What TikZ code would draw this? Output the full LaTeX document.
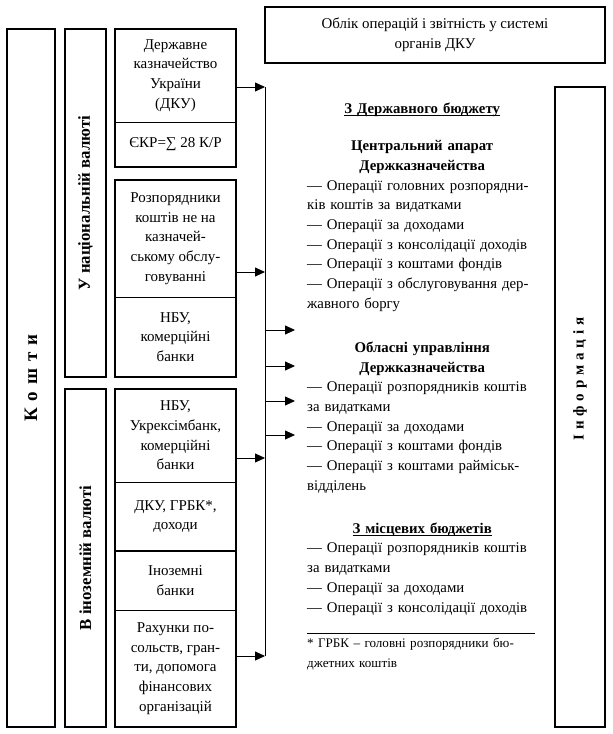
\documentclass[tikz,border=0pt]{standalone}
\usepackage{fontspec}
\setmainfont{Liberation Serif}
\usetikzlibrary{arrows.meta}
\tikzset{
  frame/.style={draw, line width=2.2pt, inner sep=0pt, outer sep=0pt},
  cell/.style={draw, line width=0.8pt, minimum width=121pt, inner sep=0pt,
    outer sep=0pt, anchor=north west, align=center,
    font=\fontsize{15}{19.7}\selectfont},
  vlabel/.style={rotate=90, font=\bfseries\fontsize{16.8}{18}\selectfont},
}
\newcommand{\jl}[1]{\makebox[230pt][s]{#1}}
\newcommand{\hd}[1]{\makebox[230pt]{\bfseries #1}}
\newcommand{\ulbd}[1]{\setbox0=\hbox{#1}\rlap{\rule[-2.2pt]{\wd0}{0.8pt}}\box0}
\newcommand{\lsp}{\hspace{7pt}}
\newcommand{\isp}{\hspace{4.8pt}}
\begin{document}
\begin{tikzpicture}[x=1pt,y=-1pt,>={Triangle[length=10pt,width=9pt]}]
  \useasboundingbox (0,0) rectangle (613,734);
  % left columns
  \node[frame, vlabel, minimum width=698pt, minimum height=48pt,
    font=\bfseries\fontsize{19}{22}\selectfont] (koshty) at (31,378)
    {К\lsp о\lsp ш\lsp т\lsp и};
  \node[frame, vlabel, minimum width=348pt, minimum height=41pt] (natsval)
    at (85.5,203) {У національній валюті};
  \node[frame, vlabel, minimum width=338pt, minimum height=41pt] (inval)
    at (85.5,558) {В іноземній валюті};
  % sources
  \node[cell, minimum height=93pt] (dku) at (115,29)
    {Державне\\казначейство\\України\\(ДКУ)};
  \node[cell, minimum height=45pt] (ekr) at (115,122) {ЄКР=∑ 28 К/Р};
  \node[cell, minimum height=117pt] (rozp) at (115,180)
    {Розпорядники\\коштів не на\\казначей-\\ському обслу-\\говуванні};
  \node[cell, minimum height=80pt] (nbu) at (115,297)
    {НБУ,\\комерційні\\банки};
  \node[cell, minimum height=93pt] (exim) at (115,389)
    {НБУ,\\Укрексімбанк,\\комерційні\\банки};
  \node[cell, minimum height=69pt] (grbk) at (115,482)
    {ДКУ, ГРБК*,\\доходи};
  \node[cell, minimum height=59pt] (inbank) at (115,551)
    {Іноземні\\банки};
  \node[cell, minimum height=117pt] (rakh) at (115,610)
    {Рахунки по-\\сольств, гран-\\ти, допомога\\фінансових\\організацій};
  \draw[line width=2.2pt] (dku.north west) rectangle (ekr.south east);
  \draw[line width=2.2pt] (rozp.north west) rectangle (nbu.south east);
  \draw[line width=2.2pt] (exim.north west) rectangle (grbk.south east);
  \draw[line width=2.2pt] (inbank.north west) rectangle (rakh.south east);
  % right boxes
  \node[frame, anchor=north west, minimum width=340pt, minimum height=56pt,
    align=center, font=\fontsize{14.9}{19.7}\selectfont] (oblik) at (265,7)
    {Облік операцій і звітність у системі\\органів ДКУ};
  \node[frame, anchor=north west, minimum width=50pt, minimum height=640pt]
    (infobox) at (555,87) {};
  \node[vlabel, font=\bfseries\fontsize{15}{18}\selectfont] (info) at (580,379)
    {І\isp н\isp ф\isp о\isp р\isp м\isp а\isp ц\isp і\isp я};
  % bus
  \coordinate (in1) at (265,87);
  \coordinate (in2) at (265,272);
  \coordinate (in3) at (265,458);
  \coordinate (in4) at (265,656);
  \draw[line width=0.8pt] (in1) -- (in4);
  \foreach \c/\n in {in1/dku, in2/rozp, in3/exim, in4/rakh}
    \draw[->, line width=0.8pt] (\c -| \n.east) -- (\c);
  \foreach \y [count=\i] in {330,366,401,435} {
    \coordinate (out\i) at (295,\y);
    \draw[->, line width=0.8pt] (out\i -| in1) -- (out\i);
  }
  % operations
  \node[anchor=north west, inner sep=0pt, text width=230pt, align=left,
    font=\fontsize{14.8}{19.7}\selectfont] (oper) at (307,103) {%
    \hd{\ulbd{З Державного бюджету}}\\[17.3pt]
    \hd{Центральний апарат}\\
    \hd{Держказначейства}\\
    \jl{— Операції головних розпорядни-}\\
    ків коштів за видатками\\
    — Операції за доходами\\
    — Операції з консолідації доходів\\
    — Операції з коштами фондів\\
    \jl{— Операції з обслуговування дер-}\\
    жавного боргу\\[24.3pt]
    \hd{Обласні управління}\\
    \hd{Держказначейства}\\
    \jl{— Операції розпорядників коштів}\\
    за видатками\\
    — Операції за доходами\\
    — Операції з коштами фондів\\
    \jl{— Операції з коштами райміськ-}\\
    відділень\\[23.3pt]
    \hd{\ulbd{З місцевих бюджетів}}\\
    \jl{— Операції розпорядників коштів}\\
    за видатками\\
    — Операції за доходами\\
    — Операції з консолідації доходів};
  % footnote
  \coordinate (fn1) at (307,633);
  \coordinate (fn2) at (535,633);
  \draw[line width=0.8pt] (fn1) -- (fn2);
  \node[anchor=north west, inner sep=0pt, text width=230pt, align=left,
    font=\fontsize{13.1}{20}\selectfont] (note) at (307,638)
    {* ГРБК – головні розпорядники бю-\\джетних коштів};
\end{tikzpicture}
\end{document}
